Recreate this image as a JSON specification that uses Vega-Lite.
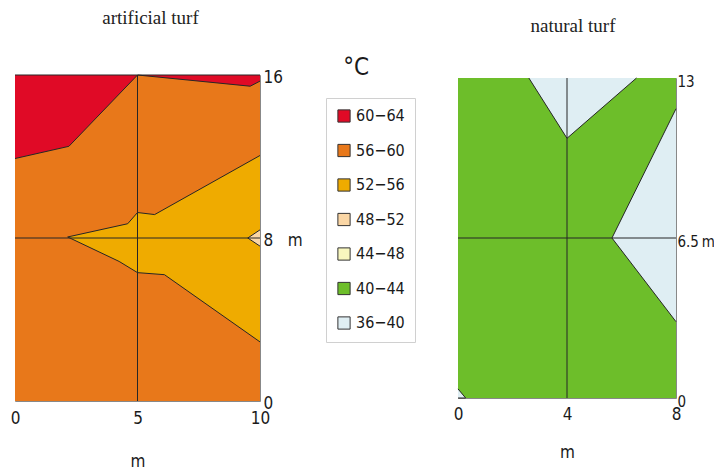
{
  "$schema": "https://vega.github.io/schema/vega-lite/v6.json",
  "padding": {"left": 9, "top": 8, "right": 0, "bottom": 0},
  "background": "white",
  "title": {"text": "°C", "font": "DejaVu Sans Condensed, DejaVu Sans", "fontSize": 24, "fontWeight": "normal", "color": "#1a1a1a", "anchor": "middle", "offset": -71, "dx": -6},
  "config": {
    "view": {"stroke": "#888888", "strokeWidth": 1},
    "axis": {"labelFont": "DejaVu Sans Condensed, DejaVu Sans", "labelFontSize": 17, "labelColor": "#1a1a1a", "ticks": false, "domain": false, "grid": false, "titleFont": "DejaVu Sans Condensed, DejaVu Sans", "titleFontSize": 17, "titleFontWeight": "normal", "titleColor": "#1a1a1a", "labelFlush": false, "labelOverlap": false},
    "legend": {"symbolType": "square", "symbolSize": 150, "symbolStrokeColor": "#333333", "symbolStrokeWidth": 1, "labelFont": "DejaVu Sans Condensed, DejaVu Sans", "labelFontSize": 16, "labelColor": "#1a1a1a", "rowPadding": 16.5, "padding": 10, "strokeColor": "#d0d0d0", "labelOffset": 4},
    "title": {"font": "Liberation Serif", "fontSize": 19, "fontWeight": "normal", "color": "#222222"}
  },
  "datasets": {
    "art": [
      {"id": "a0", "kind": "base", "band": "56−60", "i": 0, "x": 0, "y": 0},
      {"id": "a0", "kind": "base", "band": "56−60", "i": 1, "x": 10, "y": 0},
      {"id": "a0", "kind": "base", "band": "56−60", "i": 2, "x": 10, "y": 16},
      {"id": "a0", "kind": "base", "band": "56−60", "i": 3, "x": 0, "y": 16},
      {"id": "a1", "kind": "zone", "band": "60−64", "i": 0, "x": 0, "y": 11.9},
      {"id": "a1", "kind": "zone", "band": "60−64", "i": 1, "x": 2.2, "y": 12.5},
      {"id": "a1", "kind": "zone", "band": "60−64", "i": 2, "x": 5, "y": 16},
      {"id": "a1", "kind": "zone", "band": "60−64", "i": 3, "x": 0, "y": 16},
      {"id": "a2", "kind": "zone", "band": "60−64", "i": 0, "x": 10, "y": 15.7},
      {"id": "a2", "kind": "zone", "band": "60−64", "i": 1, "x": 9.6, "y": 15.45},
      {"id": "a2", "kind": "zone", "band": "60−64", "i": 2, "x": 5, "y": 16},
      {"id": "a2", "kind": "zone", "band": "60−64", "i": 3, "x": 10, "y": 16},
      {"id": "a3", "kind": "zone", "band": "52−56", "i": 0, "x": 10, "y": 12.05},
      {"id": "a3", "kind": "zone", "band": "52−56", "i": 1, "x": 5.7, "y": 9.15},
      {"id": "a3", "kind": "zone", "band": "52−56", "i": 2, "x": 5.0, "y": 9.25},
      {"id": "a3", "kind": "zone", "band": "52−56", "i": 3, "x": 4.6, "y": 8.7},
      {"id": "a3", "kind": "zone", "band": "52−56", "i": 4, "x": 2.15, "y": 8.05},
      {"id": "a3", "kind": "zone", "band": "52−56", "i": 5, "x": 4.25, "y": 6.85},
      {"id": "a3", "kind": "zone", "band": "52−56", "i": 6, "x": 5.0, "y": 6.3},
      {"id": "a3", "kind": "zone", "band": "52−56", "i": 7, "x": 6.1, "y": 6.2},
      {"id": "a3", "kind": "zone", "band": "52−56", "i": 8, "x": 10, "y": 2.9},
      {"id": "a4", "kind": "zone", "band": "48−52", "i": 0, "x": 10, "y": 8.4},
      {"id": "a4", "kind": "zone", "band": "48−52", "i": 1, "x": 9.5, "y": 8.0},
      {"id": "a4", "kind": "zone", "band": "48−52", "i": 2, "x": 10, "y": 7.6}
    ],
    "nat": [
      {"id": "b0", "kind": "base", "band": "40−44", "i": 0, "x": 0, "y": 0},
      {"id": "b0", "kind": "base", "band": "40−44", "i": 1, "x": 8, "y": 0},
      {"id": "b0", "kind": "base", "band": "40−44", "i": 2, "x": 8, "y": 13},
      {"id": "b0", "kind": "base", "band": "40−44", "i": 3, "x": 0, "y": 13},
      {"id": "b1", "kind": "zone", "band": "36−40", "i": 0, "x": 2.6, "y": 13},
      {"id": "b1", "kind": "zone", "band": "36−40", "i": 1, "x": 4.0, "y": 10.55},
      {"id": "b1", "kind": "zone", "band": "36−40", "i": 2, "x": 6.55, "y": 13},
      {"id": "b2", "kind": "zone", "band": "36−40", "i": 0, "x": 8, "y": 11.75},
      {"id": "b2", "kind": "zone", "band": "36−40", "i": 1, "x": 5.65, "y": 6.5},
      {"id": "b2", "kind": "zone", "band": "36−40", "i": 2, "x": 8, "y": 3.1},
      {"id": "b3", "kind": "zone", "band": "36−40", "i": 0, "x": 0, "y": 0.37},
      {"id": "b3", "kind": "zone", "band": "36−40", "i": 1, "x": 0.28, "y": 0},
      {"id": "b3", "kind": "zone", "band": "36−40", "i": 2, "x": 0, "y": 0}
    ]
  },
  "hconcat": [
    {
      "width": 245,
      "height": 326,
      "title": {"text": "artificial turf", "dx": 13, "offset": 40},
      "layer": [
        {
          "data": {"name": "art"},
          "transform": [{"filter": "datum.kind == 'base'"}],
          "mark": {"type": "line", "strokeWidth": 0, "strokeOpacity": 0},
          "encoding": {
            "x": {"field": "x", "type": "quantitative", "scale": {"domain": [0, 10], "nice": false, "zero": false}, "axis": {"values": [0, 5, 10], "title": "m", "labelPadding": 9, "titlePadding": 27}},
            "y": {"field": "y", "type": "quantitative", "scale": {"domain": [0, 16], "nice": false, "zero": false}, "axis": {"orient": "right", "values": [0, 8, 16], "title": null, "labelPadding": 3, "labelOffset": 2, "labelExpr": "datum.value == 8 ? '8\u00a0\u00a0\u00a0m' : datum.label"}},
            "fill": {"field": "band", "type": "nominal", "scale": {"domain": ["60−64", "56−60", "52−56", "48−52", "44−48", "40−44", "36−40"], "range": ["#e00a26", "#e8781a", "#efab00", "#fad6a5", "#f8f7be", "#6dbe2a", "#dfeef3"]}, "legend": {"orient": "none", "legendX": 311, "legendY": 23, "title": null}},
            "detail": {"field": "id"},
            "order": {"field": "i", "type": "quantitative"}
          }
        },
        {
          "data": {"name": "art"},
          "transform": [{"filter": "datum.kind == 'zone'"}],
          "mark": {"type": "line", "stroke": "#262626", "strokeWidth": 1},
          "encoding": {
            "x": {"field": "x", "type": "quantitative"},
            "y": {"field": "y", "type": "quantitative"},
            "fill": {"field": "band", "type": "nominal"},
            "detail": {"field": "id"},
            "order": {"field": "i", "type": "quantitative"}
          }
        },
        {"data": {"values": [{}]}, "mark": {"type": "rule", "color": "#262626", "strokeWidth": 1}, "encoding": {"x": {"datum": 5}}},
        {"data": {"values": [{}]}, "mark": {"type": "rule", "color": "#262626", "strokeWidth": 1}, "encoding": {"y": {"datum": 8}}}
      ]
    },
    {
      "width": 218,
      "height": 320,
      "title": {"text": "natural turf", "dx": 6, "offset": 38},
      "layer": [
        {
          "data": {"name": "nat"},
          "transform": [{"filter": "datum.kind == 'base'"}],
          "mark": {"type": "line", "strokeWidth": 0, "strokeOpacity": 0},
          "encoding": {
            "x": {"field": "x", "type": "quantitative", "scale": {"domain": [0, 8], "nice": false, "zero": false}, "axis": {"values": [0, 4, 8], "title": "m", "labelPadding": 8, "titlePadding": 22}},
            "y": {"field": "y", "type": "quantitative", "scale": {"domain": [0, 13], "nice": false, "zero": false}, "axis": {"orient": "right", "values": [0, 6.5, 13], "title": null, "labelPadding": 1, "labelOffset": 3, "labelFontSize": 15, "labelExpr": "datum.value == 6.5 ? '6.5\u2009m' : datum.label"}},
            "fill": {"field": "band", "type": "nominal", "legend": {"orient": "none", "legendX": 311, "legendY": 23, "title": null}},
            "detail": {"field": "id"},
            "order": {"field": "i", "type": "quantitative"}
          }
        },
        {
          "data": {"name": "nat"},
          "transform": [{"filter": "datum.kind == 'zone'"}],
          "mark": {"type": "line", "stroke": "#262626", "strokeWidth": 1},
          "encoding": {
            "x": {"field": "x", "type": "quantitative"},
            "y": {"field": "y", "type": "quantitative"},
            "fill": {"field": "band", "type": "nominal"},
            "detail": {"field": "id"},
            "order": {"field": "i", "type": "quantitative"}
          }
        },
        {"data": {"values": [{}]}, "mark": {"type": "rule", "color": "#262626", "strokeWidth": 1}, "encoding": {"x": {"datum": 4}}},
        {"data": {"values": [{}]}, "mark": {"type": "rule", "color": "#262626", "strokeWidth": 1}, "encoding": {"y": {"datum": 6.5}}}
      ]
    }
  ],
  "spacing": 198,
  "bounds": "flush",
  "center": true,
  "resolve": {"scale": {"x": "independent", "y": "independent", "fill": "shared"}}
}
